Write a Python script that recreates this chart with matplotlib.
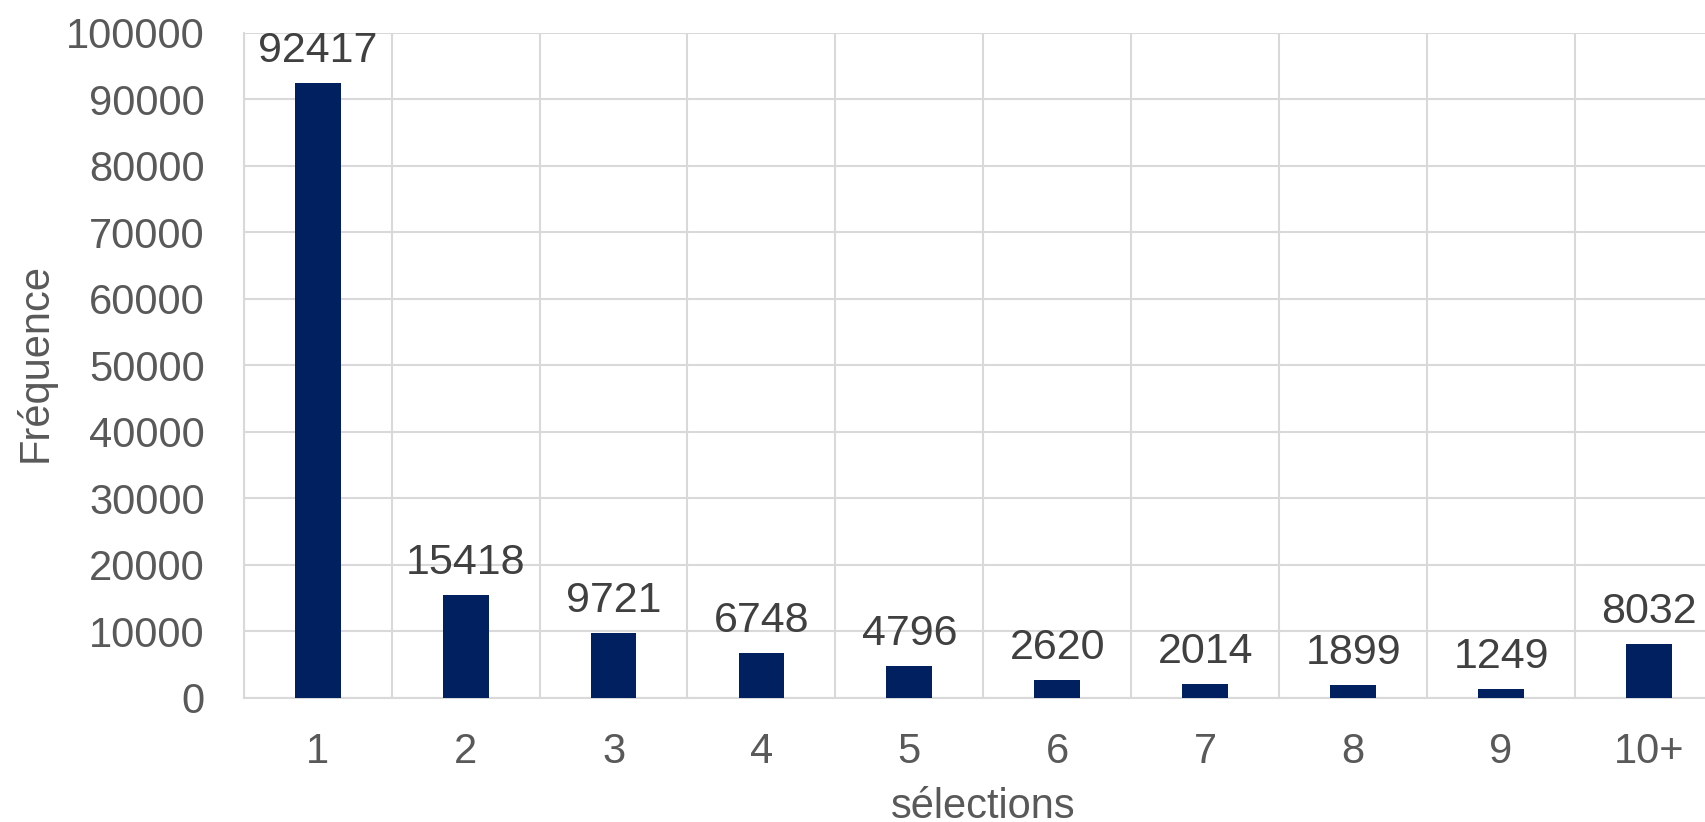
import matplotlib
matplotlib.use("Agg")
import matplotlib.pyplot as plt
import numpy as np

categories = ["1", "2", "3", "4", "5", "6", "7", "8", "9", "10+"]
frequencies = [92417, 15418, 9721, 6748, 4796, 2620, 2014, 1899, 1249, 8032]
y_ticks = [0, 10000, 20000, 30000, 40000, 50000, 60000, 70000, 80000, 90000, 100000]

plt.rcParams['font.family'] = ['Liberation Sans', 'DejaVu Sans']

W, H = 1706, 822
fig = plt.figure(figsize=(W / 100, H / 100), dpi=100)
left, right = 243.7, 1723.0
top, bottom = 32.6, 697.5
ax = fig.add_axes([left / W, (H - bottom) / H, (right - left) / W, (bottom - top) / H])

x = np.arange(len(categories))
bar_color = '#002060'
grid_color = '#d9d9d9'
tick_color = '#595959'
label_color = '#404040'
fs = 30
fs_lab = 31

ax.bar(x, frequencies, width=0.31, color=bar_color, zorder=3)

for xi, v in zip(x, frequencies):
    ax.annotate(f"{v}", (xi, v), xytext=(0, 15), textcoords='offset points',
                ha='center', va='baseline', fontsize=fs_lab, color=label_color, zorder=4)

ax.set_xlim(-0.5, len(categories) - 0.5)
ax.set_ylim(0, 100000)
ax.set_yticks(y_ticks)
ax.set_yticklabels([str(t) for t in y_ticks])
ax.set_xticks(x)
ax.set_xticklabels(categories)
ax.set_xticks(np.arange(-0.5, len(categories) + 0.5, 1), minor=True)

ax.grid(axis='y', which='major', color=grid_color, linewidth=1.5, zorder=0)
ax.grid(axis='x', which='minor', color=grid_color, linewidth=1.5, zorder=0)
ax.grid(axis='x', which='major', visible=False)

for s in ['top', 'right']:
    ax.spines[s].set_visible(False)
ax.spines['left'].set_color(grid_color)
ax.spines['left'].set_linewidth(1.5)
ax.spines['bottom'].set_color(grid_color)
ax.spines['bottom'].set_linewidth(1.5)

ax.tick_params(axis='both', which='both', length=0, labelsize=fs, labelcolor=tick_color)
ax.tick_params(axis='y', pad=28)
ax.tick_params(axis='x', pad=24.5)

ax.set_xlabel("sélections", fontsize=fs, color=tick_color)
ax.set_ylabel("Fréquence", fontsize=fs, color=tick_color)
ax.xaxis.label.set_va('baseline')
ax.yaxis.label.set_va('center')
ax.xaxis.set_label_coords(0.5, -(818 - bottom) / (bottom - top))
ax.yaxis.set_label_coords(-(left - 35) / (right - left), (bottom - 363) / (bottom - top))

fig.savefig("out.png", dpi=100)
